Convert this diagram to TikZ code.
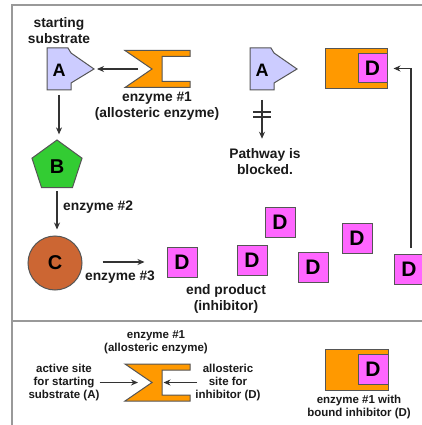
\documentclass[tikz,border=0pt]{standalone}
\usepackage{fontspec}
\setmainfont{Liberation Sans}
\usetikzlibrary{arrows.meta,shapes.geometric}
\definecolor{frameC}{HTML}{999999}
\definecolor{lineC}{HTML}{333333}
\definecolor{edgeC}{HTML}{555555}
\definecolor{aC}{HTML}{CCCCFF}
\definecolor{bC}{HTML}{33CC33}
\definecolor{cC}{HTML}{CC6633}
\definecolor{dC}{HTML}{FF66FF}
\definecolor{eC}{HTML}{FF9900}
\definecolor{txtC}{HTML}{1A1A1A}
\begin{document}
\begin{tikzpicture}[x=1pt,y=-1pt,
 frame/.style={draw=frameC,line width=1.5pt},
 outline/.style={draw=edgeC,line width=1pt},
 arr/.style={draw=lineC,line width=1.1pt,-{Stealth[length=7pt,width=6pt]}},
 bar/.style={draw=lineC,line width=1.1pt},
 big/.style={font=\fontsize{13.8}{16}\selectfont\bfseries, text=txtC, align=center, inner sep=0pt},
 small/.style={font=\fontsize{11.5}{13}\selectfont\bfseries, text=txtC, align=center, inner sep=0pt},
 letter/.style={font=\fontsize{20}{20}\selectfont\bfseries, text=black, inner sep=0pt},
 dsq/.style={outline, fill=dC, minimum size=30pt, inner sep=0pt, font=\fontsize{21}{21}\selectfont\bfseries},
 Ashape/.pic={\draw[outline,fill=aC] (0,0) -- (21,0) -- (24,5) -- (47,21) -- (24,35) -- (24,42) -- (0,42) -- cycle;
   \coordinate (-tip) at (47,21); \coordinate (-bot) at (12,42);},
 enzyme/.pic={\draw[outline,fill=eC] (0,0) -- (65,0) -- (65,6) -- (37,6) -- (37,31) -- (65,31) -- (65,37) -- (0,37) -- (27,18.5) -- cycle;
   \coordinate (-notch) at (13,18.5); \coordinate (-inner) at (37,18.5);},
]
\useasboundingbox (0,0) rectangle (422,425);
\fill[white] (0,0) rectangle (422,425);
% frame
\draw[frame] (12,430) -- (12,5) -- (430,5);
\draw[frame] (12,321) -- (430,321);

% top-left pathway
\node[big] (lS) at (59,30.5) {starting\\substrate};
\pic (A1) at (47,48) {Ashape};
\node[letter,font=\fontsize{18}{18}\selectfont\bfseries] (LA1) at (59,70) {A};
\pic (E1) at (125,50.5) {enzyme};
\node[big] (lE1) at (157,106.5) {enzyme \#1\\(allosteric enzyme)};
\draw[arr,shorten >=3pt] (E1-notch) -- (A1-tip);

\node[regular polygon, regular polygon sides=5, minimum size=52.6pt, inner sep=0pt, outline, fill=bC, letter] (B) at (57,166.3) {B};
\draw[arr,shorten <=5pt,shorten >=5pt] (A1-bot) -- (A1-bot |- B.north);
\node[circle, outline, fill=cC, minimum size=54pt, inner sep=0pt, letter] (C) at (55,263) {C};
\draw[arr,shorten <=3pt,shorten >=6pt] (B.south) -- (B.south |- C.north);
\node[big,anchor=west] (lE2) at (63,207) {enzyme \#2};

\node[dsq] (D1) at (182,262) {D};
\draw[arr,shorten <=20pt,shorten >=22pt] (C.east |- D1.west) -- (D1.west);
\node[big] (lE3) at (120,277) {enzyme \#3};
\node[big] (lEP) at (226,299) {end product\\(inhibitor)};

\node[dsq] (D2) at (252,260) {D};
\node[dsq] (D3) at (280,222) {D};
\node[dsq] (D4) at (313,267) {D};
\node[dsq] (D5) at (357,238) {D};
\node[dsq] (D6) at (409,269) {D};

% top-right: blocked pathway
\pic (A2) at (250,48) {Ashape};
\node[letter,font=\fontsize{18}{18}\selectfont\bfseries] (LA2) at (262,70) {A};
\node[big] (P) at (265,161.5) {Pathway is\\blocked.};
\draw[arr,shorten <=10pt,shorten >=9.5pt] (A2-bot) -- (A2-bot |- P.north);
\draw[bar] ([xshift=-9pt,yshift=-22pt]A2-bot) -- ([xshift=9pt,yshift=-22pt]A2-bot);
\draw[bar] ([xshift=-9pt,yshift=-27pt]A2-bot) -- ([xshift=9pt,yshift=-27pt]A2-bot);

\node[rectangle, outline, fill=eC, minimum width=62pt, minimum height=40pt, inner sep=0pt] (ED1) at (356,69) {};
\node[dsq, minimum size=29pt] (ED1D) at (372.5,68.5) {D};
\draw[arr] ([xshift=2pt,yshift=6pt]D6.north) |- ([xshift=6pt]ED1D.east);

% legend
\node[small] (lE1b) at (156,342.5) {enzyme \#1\\(allosteric enzyme)};
\pic (E2) at (125,364) {enzyme};
\node[small] (lblA) at (64,382.5) {active site\\for starting\\substrate (A)};
\node[small] (lblD) at (228,382.5) {allosteric\\site for\\inhibitor (D)};
\draw[arr] (lblA.east |- E2-notch) -- (E2-notch);
\draw[arr,shorten <=-2pt] (lblD.west |- E2-inner) -- ([xshift=1.5pt]E2-inner);

\node[rectangle, outline, fill=eC, minimum width=63pt, minimum height=41pt, inner sep=0pt] (ED2) at (356.5,369.5) {};
\node[dsq] (ED2D) at (373,369) {D};
\node[small] (lED2) at (359,407) {enzyme \#1 with\\bound inhibitor (D)};
\end{tikzpicture}
\end{document}
